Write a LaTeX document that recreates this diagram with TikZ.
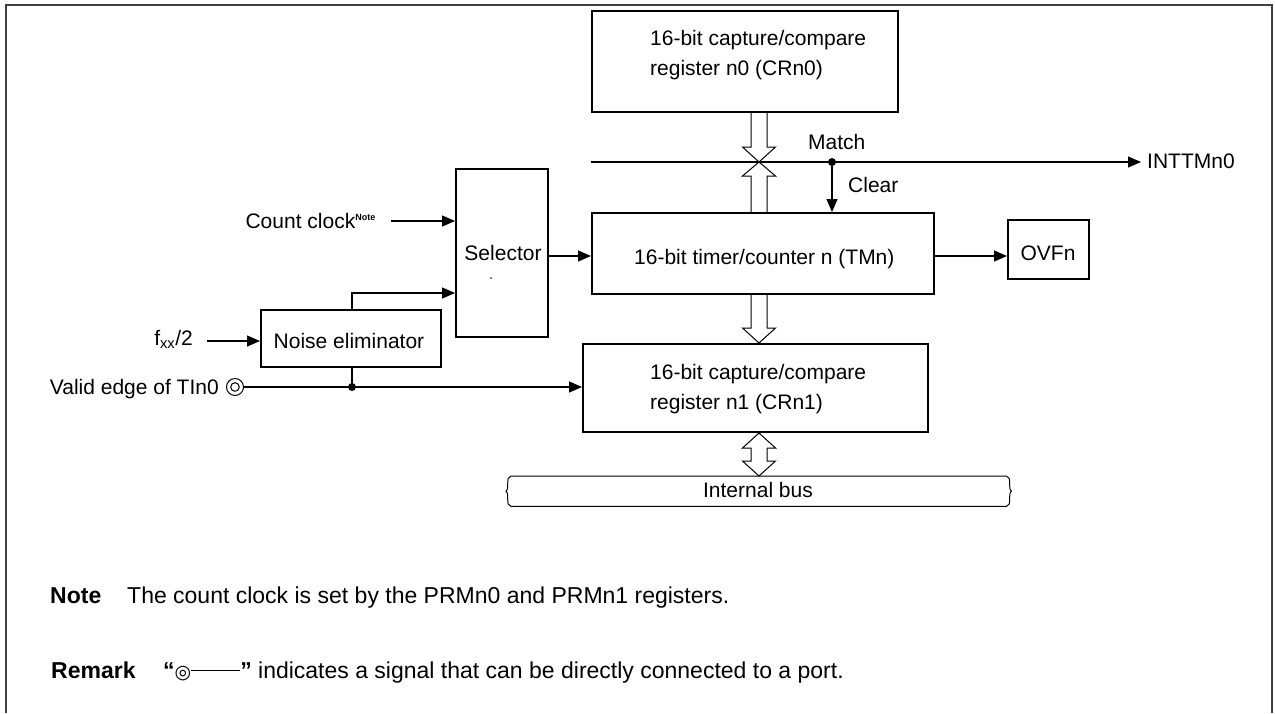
\documentclass[tikz,border=0pt]{standalone}
\usepackage{fontspec}
\setmainfont{Liberation Sans}
\newfontfamily\dejavu{DejaVu Sans}
\usetikzlibrary{arrows.meta,calc}
\begin{document}
\begin{tikzpicture}[x=1pt,y=-1pt,
  font=\fontsize{21}{30}\selectfont,
  box/.style={draw, line width=2pt, inner sep=0pt, anchor=north west},
  lbl/.style={inner sep=0pt},
  notefont/.style={font=\fontsize{23}{28}\selectfont},
  sig/.style={line width=1.1pt, -{Triangle[length=13pt,width=11pt]}},
  wire/.style={line width=1.1pt},
  hollow/.style={line width=1pt, line join=miter},
  dot/.style={fill, circle, inner sep=0pt, minimum size=8pt}]
\useasboundingbox (0,0) rectangle (1275,713);
% frame
\draw[line width=2pt, black!75] (6,713) -- (6,5) -- (1272,5) -- (1272,713);

% boxes
\node[box, minimum width=306pt, minimum height=101pt] (cr0) at (591,10) {};
\node[box, minimum width=342pt, minimum height=81pt] (tm) at (591,212) {};
\node[box, minimum width=345pt, minimum height=88pt] (cr1) at (582,343) {};
\node[box, minimum width=92pt, minimum height=168pt] (sel) at (455,168) {};
\node[box, minimum width=180pt, minimum height=57pt] (ne) at (260,309) {};
\node[box, minimum width=81pt, minimum height=59pt] (ovf) at (1007,219) {};
\node[inner sep=0pt, anchor=north west, minimum width=503pt, minimum height=30pt] (bus) at (507,476) {};

% box texts
\node[lbl, anchor=west, align=left] (cr0t) at (650,55) {16-bit capture/compare\\register n0 (CRn0)};
\node[lbl, anchor=base west] (tmt) at (634,264.5) {16-bit timer/counter n (TMn)};
\node[lbl, anchor=west, align=left] (cr1t) at (650,389) {16-bit capture/compare\\register n1 (CRn1)};
\node[lbl, anchor=base] (selt) at (503,260.5) {Selector};
\fill (491,278) circle (0.8);
\node[lbl, anchor=base] (net) at (349,348.5) {Noise eliminator};
\node[lbl, anchor=base] (ovft) at (1048,260) {OVFn};
\node[lbl, anchor=base] (bust) at (758,497.5) {Internal bus};

% labels
\node[lbl, anchor=base east] (cclk) at (376,228.5) {Count clock\textsuperscript{\fontsize{9}{10}\selectfont\bfseries Note}};
\node[lbl, anchor=base east] (fxx) at (193,345.5) {f\textsubscript{xx}/2};
\node[lbl, anchor=base east] (vedge) at (219,394.5) {Valid edge of TIn0};
\node[lbl, anchor=base west] (int) at (1147,168.5) {INTTMn0};
\node[lbl, anchor=base west] (match) at (808,149) {Match};
\node[lbl, anchor=base west] (clr) at (848,192.5) {Clear};

% coordinates
\coordinate (mt) at (759,162);
\coordinate (ml) at (591,162);
\coordinate (mr) at (1141,162);
\coordinate (cc) at (391,221);
\coordinate (fx) at (207,341);
\coordinate (ve) at (235,387);

% match line
\draw[sig] (ml) -- (mr);
\node[dot] (md) at (832,162) {};
\draw[sig] (md) -- (md |- tm.north);

% hollow arrows
\draw[hollow] ($(mt |- cr0.south)+(-8,0)$) -- ($(mt)+(-8,-15)$) -- ($(mt)+(-16.5,-15)$) -- (mt) -- ($(mt)+(16.5,-15)$) -- ($(mt)+(8,-15)$) -- ($(mt |- cr0.south)+(8,0)$);
\draw[hollow] ($(mt |- tm.north)+(-8,0)$) -- ($(mt)+(-8,14)$) -- ($(mt)+(-16.5,14)$) -- (mt) -- ($(mt)+(16.5,14)$) -- ($(mt)+(8,14)$) -- ($(mt |- tm.north)+(8,0)$);
\coordinate (c2) at (mt |- cr1.north);
\draw[hollow] ($(mt |- tm.south)+(-8,0)$) -- ($(c2)+(-8,-15)$) -- ($(c2)+(-16.5,-15)$) -- (c2) -- ($(c2)+(16.5,-15)$) -- ($(c2)+(8,-15)$) -- ($(mt |- tm.south)+(8,0)$);
\coordinate (d1) at (mt |- cr1.south);
\coordinate (d2) at (mt |- bus.north);
\draw[hollow] (d1) -- ($(d1)+(16.5,15)$) -- ($(d1)+(8,15)$) -- ($(d2)+(8,-15)$) -- ($(d2)+(16.5,-15)$) -- (d2) -- ($(d2)+(-16.5,-15)$) -- ($(d2)+(-8,-15)$) -- ($(d1)+(-8,15)$) -- ($(d1)+(-16.5,15)$) -- cycle;

% bus outline
\draw[line width=1pt] ($(bus.north west)+(4,0)$) -- ($(bus.north east)+(-4,0)$)
  .. controls ($(bus.north east)+(2,1)$) and ($(bus.east)+(-3,-3)$) .. ($(bus.east)+(1,0)$)
  .. controls ($(bus.east)+(-3,3)$) and ($(bus.south east)+(2,-1)$) .. ($(bus.south east)+(-4,0)$)
  -- ($(bus.south west)+(4,0)$)
  .. controls ($(bus.south west)+(-2,-1)$) and ($(bus.west)+(3,3)$) .. ($(bus.west)+(-1,0)$)
  .. controls ($(bus.west)+(3,-3)$) and ($(bus.north west)+(-2,1)$) .. ($(bus.north west)+(4,0)$);

% signals
\draw[sig] (cc) -- (cc -| sel.west);
\draw[sig] (ne.north -| 352,0) -- (352,293) -- (sel.west |- 0,293);
\draw[sig] (fx) -- (fx -| ne.west);
\draw[line width=1pt] (ve) circle (8.5);
\draw[line width=1pt] (ve) circle (4.3);
\draw[sig] ($(ve)+(8.5,0)$) -- (ve -| cr1.west);
\node[dot] (vd) at (352,387) {};
\draw[wire] (vd) -- (vd |- ne.south);
\draw[sig] (sel.east |- 0,256) -- (tm.west |- 0,256);
\draw[sig] (tm.east |- 0,256) -- (ovf.west |- 0,256);

% notes
\node[lbl, notefont, anchor=base west] (n1) at (50,603) {\bfseries Note};
\node[lbl, notefont, anchor=base west] (n2) at (127,603) {The count clock is set by the PRMn0 and PRMn1 registers.};
\node[lbl, notefont, anchor=base west] (r1) at (51,678) {\bfseries Remark};
\node[lbl, notefont, anchor=base west] (r2) at (163,678) {{\bfseries “}{\dejavu\fontsize{19}{22}\selectfont ◎}\raisebox{0.33em}{\rule{49pt}{0.9pt}}{\bfseries ”} indicates a signal that can be directly connected to a port.};
\end{tikzpicture}
\end{document}
